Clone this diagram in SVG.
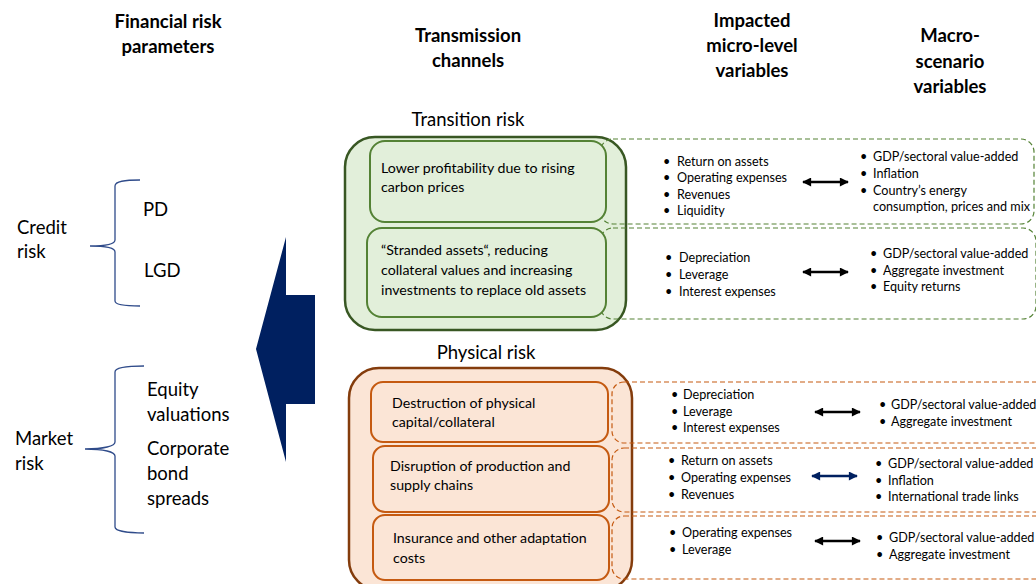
<svg xmlns="http://www.w3.org/2000/svg" width="1036" height="584" viewBox="0 0 1036 584">
<style>
text{font-family:Lato,"Open Sans","Liberation Sans",sans-serif;fill:#000}
.h{font-weight:bold;font-size:18.5px;text-anchor:middle}
.sec{font-size:18.5px;text-anchor:middle}
.lbl{font-size:18.5px}
.bx{font-size:14.2px}
.b{font-size:12.6px}
.gout{fill:#e2efda;stroke:#385723;stroke-width:2.5}
.gin{fill:#e2efda;stroke:#548235;stroke-width:2}
.gdash{fill:none;stroke:#548235;stroke-width:1.2;stroke-dasharray:5 3}
.oout{fill:#fbe5d6;stroke:#843c0c;stroke-width:2.5}
.oin{fill:#fbe5d6;stroke:#c55a11;stroke-width:2}
.odash{fill:none;stroke:#c55a11;stroke-width:1.2;stroke-dasharray:5 3}
.brace{fill:none;stroke:#2f4b8a;stroke-width:1.3}
.arr{stroke:#000;stroke-width:2.5;marker-start:url(#ahk);marker-end:url(#ahk)}
.arrb{stroke:#002060;stroke-width:2.5;marker-start:url(#ahb);marker-end:url(#ahb)}
</style>
<defs>
<marker id="ahk" viewBox="0 0 10 10" refX="9" refY="5" markerWidth="10" markerHeight="9" markerUnits="userSpaceOnUse" orient="auto-start-reverse"><path d="M0,0 L10,5 L0,10 Z" fill="#000"/></marker>
<marker id="ahb" viewBox="0 0 10 10" refX="9" refY="5" markerWidth="10" markerHeight="9" markerUnits="userSpaceOnUse" orient="auto-start-reverse"><path d="M0,0 L10,5 L0,10 Z" fill="#002060"/></marker>
</defs>

<g id="headers">
<text class="h" x="168" y="28">Financial risk</text>
<text class="h" x="168" y="53">parameters</text>
<text class="h" x="468" y="42">Transmission</text>
<text class="h" x="468" y="67">channels</text>
<text class="h" x="752" y="27">Impacted</text>
<text class="h" x="752" y="52">micro-level</text>
<text class="h" x="752" y="77">variables</text>
<text class="h" x="950" y="42">Macro-</text>
<text class="h" x="950" y="68">scenario</text>
<text class="h" x="950" y="93">variables</text>
</g>

<g id="credit-risk">
<text class="lbl" x="17" y="234">Credit</text>
<text class="lbl" x="17" y="258">risk</text>
<path class="brace" d="M140,180 C125,180 115,181 115,186 L115,240 C115,244 105,246 90,246 C105,246 115,248 115,252 L115,301 C115,305 125,306 140,306"/>
<text class="lbl" x="143" y="216">PD</text>
<text class="lbl" x="144" y="277">LGD</text>
</g>

<g id="market-risk">
<text class="lbl" x="15" y="445">Market</text>
<text class="lbl" x="15" y="470">risk</text>
<path class="brace" d="M144,366 C128,366 115,367 115,372 L115,442 C115,446 104,449 85,449 C104,449 115,452 115,456 L115,527 C115,531 128,533 144,533"/>
<text class="lbl" x="147" y="396">Equity</text>
<text class="lbl" x="147" y="421">valuations</text>
<text class="lbl" x="147" y="455">Corporate</text>
<text class="lbl" x="147" y="480">bond</text>
<text class="lbl" x="147" y="505">spreads</text>
</g>

<g id="big-arrow">
<polygon points="256,349 286,237 286,295 315,295 315,404 286,404 286,462" fill="#002060"/>
</g>

<g id="transition-risk">
<text class="sec" x="468" y="126">Transition risk</text>
<rect class="gout" x="345" y="137" width="281" height="193" rx="30"/>
<rect class="gdash" x="600" y="139" width="434" height="85" rx="13"/>
<rect class="gdash" x="600" y="228" width="436" height="91" rx="13"/>
</g>

<g id="transition-channel-1">
<rect class="gin" x="370" y="141" width="236" height="81" rx="15"/>
<text class="bx" x="381" y="173">Lower profitability due to rising</text>
<text class="bx" x="381" y="192">carbon prices</text>
</g>
<g id="transition-micro-1">
<text class="b" x="663" y="166">•</text><text class="b" x="677" y="166">Return on assets</text>
<text class="b" x="663" y="182">•</text><text class="b" x="677" y="182">Operating expenses</text>
<text class="b" x="663" y="199">•</text><text class="b" x="677" y="199">Revenues</text>
<text class="b" x="663" y="215">•</text><text class="b" x="677" y="215">Liquidity</text>
</g>
<g id="transition-macro-1">
<text class="b" x="860" y="161">•</text><text class="b" x="873" y="161">GDP/sectoral value-added</text>
<text class="b" x="860" y="178">•</text><text class="b" x="873" y="178">Inflation</text>
<text class="b" x="860" y="195">•</text><text class="b" x="873" y="195">Country’s energy</text>
<text class="b" x="873" y="211">consumption, prices and mix</text>
</g>

<g id="transition-channel-2">
<rect class="gin" x="367" y="228" width="239" height="89" rx="15"/>
<text class="bx" x="381" y="255">“Stranded assets“, reducing</text>
<text class="bx" x="381" y="275">collateral values and increasing</text>
<text class="bx" x="381" y="295">investments to replace old assets</text>
</g>
<g id="transition-micro-2">
<text class="b" x="665" y="262">•</text><text class="b" x="679" y="262">Depreciation</text>
<text class="b" x="665" y="279">•</text><text class="b" x="679" y="279">Leverage</text>
<text class="b" x="665" y="296">•</text><text class="b" x="679" y="296">Interest expenses</text>
</g>
<g id="transition-macro-2">
<text class="b" x="870" y="258">•</text><text class="b" x="883" y="258">GDP/sectoral value-added</text>
<text class="b" x="870" y="275">•</text><text class="b" x="883" y="275">Aggregate investment</text>
<text class="b" x="870" y="291">•</text><text class="b" x="883" y="291">Equity returns</text>
</g>

<g id="physical-risk">
<text class="sec" x="486" y="359">Physical risk</text>
<rect class="oout" x="349" y="368" width="283" height="222" rx="30"/>
<rect class="odash" x="612" y="382" width="440" height="61" rx="12"/>
<rect class="odash" x="612" y="448" width="440" height="64" rx="12"/>
<rect class="odash" x="612" y="516" width="440" height="63" rx="12"/>
</g>

<g id="physical-channel-1">
<rect class="oin" x="371" y="382" width="237" height="60" rx="12"/>
<text class="bx" x="392" y="408">Destruction of physical</text>
<text class="bx" x="392" y="427">capital/collateral</text>
</g>
<g id="physical-micro-1">
<text class="b" x="671" y="399">•</text><text class="b" x="683" y="399">Depreciation</text>
<text class="b" x="671" y="416">•</text><text class="b" x="683" y="416">Leverage</text>
<text class="b" x="671" y="432">•</text><text class="b" x="683" y="432">Interest expenses</text>
</g>
<g id="physical-macro-1">
<text class="b" x="879" y="409">•</text><text class="b" x="891" y="409">GDP/sectoral value-added</text>
<text class="b" x="879" y="426">•</text><text class="b" x="891" y="426">Aggregate investment</text>
</g>

<g id="physical-channel-2">
<rect class="oin" x="373" y="446" width="236" height="66" rx="12"/>
<text class="bx" x="390" y="471">Disruption of production and</text>
<text class="bx" x="390" y="490">supply chains</text>
</g>
<g id="physical-micro-2">
<text class="b" x="668" y="465">•</text><text class="b" x="681" y="465">Return on assets</text>
<text class="b" x="668" y="482">•</text><text class="b" x="681" y="482">Operating expenses</text>
<text class="b" x="668" y="499">•</text><text class="b" x="681" y="499">Revenues</text>
</g>
<g id="physical-macro-2">
<text class="b" x="875" y="468">•</text><text class="b" x="888" y="468">GDP/sectoral value-added</text>
<text class="b" x="875" y="485">•</text><text class="b" x="888" y="485">Inflation</text>
<text class="b" x="875" y="501">•</text><text class="b" x="888" y="501">International trade links</text>
</g>

<g id="physical-channel-3">
<rect class="oin" x="373" y="515" width="236" height="65" rx="12"/>
<text class="bx" x="393" y="543">Insurance and other adaptation</text>
<text class="bx" x="393" y="563">costs</text>
</g>
<g id="physical-micro-3">
<text class="b" x="669" y="537">•</text><text class="b" x="682" y="537">Operating expenses</text>
<text class="b" x="669" y="554">•</text><text class="b" x="682" y="554">Leverage</text>
</g>
<g id="physical-macro-3">
<text class="b" x="876" y="542">•</text><text class="b" x="889" y="542">GDP/sectoral value-added</text>
<text class="b" x="876" y="559">•</text><text class="b" x="889" y="559">Aggregate investment</text>
</g>

<g id="connectors">
<line class="arr" x1="803" y1="182" x2="848" y2="182"/>
<line class="arr" x1="803" y1="272" x2="848" y2="272"/>
<line class="arr" x1="815" y1="412" x2="860" y2="412"/>
<line class="arrb" x1="812" y1="476" x2="857" y2="476"/>
<line class="arr" x1="815" y1="541" x2="860" y2="541"/>
</g>
</svg>
